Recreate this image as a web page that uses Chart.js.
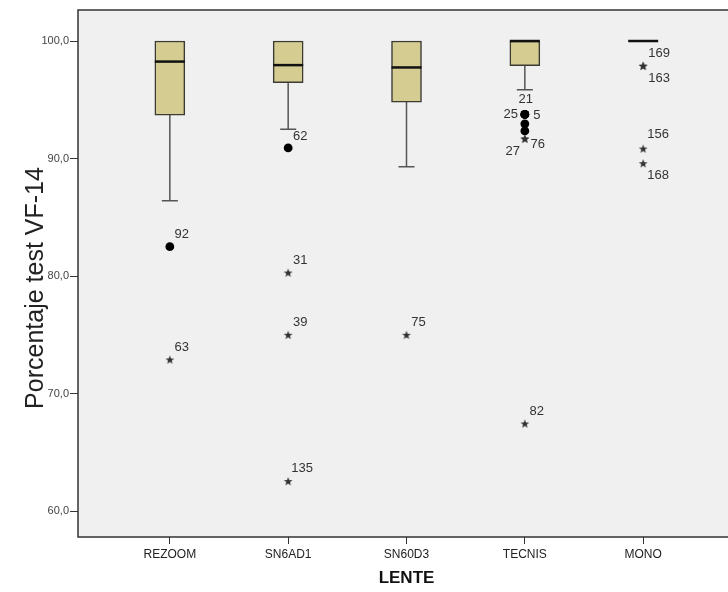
<!DOCTYPE html>
<html>
<head>
<meta charset="utf-8">
<script src="https://cdn.jsdelivr.net/npm/chart.js@4.4.1/dist/chart.umd.min.js"></script>
<style>
  html, body { margin: 0; padding: 0; background: #fff; overflow: hidden; }
  canvas { display: block; }
</style>
</head>
<body>
<canvas id="boxChart" width="740" height="592"></canvas>
<script>
const categories = ["REZOOM", "SN6AD1", "SN60D3", "TECNIS", "MONO"];
const q1 = [93.7, 96.45, 94.8, 97.9, 100];
const medians = [98.25, 97.95, 97.75, 100, 100];
const q3 = [100, 100, 100, 100, 100];
const whiskerLow = [86.4, 92.5, 89.3, 95.85, 100];
const whiskerHigh = [100, 100, 100, 100, 100];

// outliers (circles) and extremes (stars) with their case numbers
const circleCat = [0, 1, 3, 3, 3, 3, 3];
const circleVal = [82.5, 90.9, 93.75, 93.75, 93.75, 92.95, 92.35];
const circleCase = ["92", "62", "21", "25", "5", "", ""];
const starCat = [0, 1, 1, 1, 2, 3, 3, 3, 4, 4, 4, 4];
const starVal = [72.9, 80.3, 75.0, 62.55, 75.0, 67.45, 91.7, 91.7, 97.9, 97.9, 90.85, 89.6];
const starCase = ["63", "31", "39", "135", "75", "82", "27", "76", "169", "163", "156", "168"];

const yTicks = [60, 70, 80, 90, 100];

// where each case number sits relative to its marker (default up-right)
const caseOffset = {
  "135": [14, -13], "21": [1, -15], "25": [-14, 0], "5": [12, 1],
  "27": [-12, 13], "76": [13, 6], "169": [16, -12], "163": [16, 13],
  "156": [15, -14], "168": [15, 12]
};

const FONT = "'Liberation Sans', Arial, sans-serif";

function makeStar(r, color) {
  const c = document.createElement("canvas");
  c.width = c.height = Math.ceil(r * 2 + 2);
  const g = c.getContext("2d");
  g.translate(c.width / 2, c.height / 2 + 0.5);
  g.beginPath();
  for (let k = 0; k < 10; k++) {
    const rad = k % 2 ? r * 0.42 : r;
    const a = -Math.PI / 2 + k * Math.PI / 5;
    g.lineTo(rad * Math.cos(a), rad * Math.sin(a));
  }
  g.closePath();
  g.fillStyle = color;
  g.fill();
  return c;
}

const boxPlot = {
  id: "boxPlot",
  beforeDraw(chart) {
    const {ctx, chartArea: a} = chart;
    ctx.save();
    ctx.fillStyle = "#f0f0f0";
    ctx.fillRect(a.left, a.top, a.right - a.left, a.bottom - a.top);
    ctx.restore();
  },
  beforeDatasetsDraw(chart) {
    const {ctx, scales: {x, y}} = chart;
    ctx.save();
    ctx.strokeStyle = "#555";
    ctx.lineWidth = 1.5;
    categories.forEach((c, i) => {
      const px = x.getPixelForValue(i);
      if (whiskerLow[i] < q1[i]) {
        ctx.beginPath();
        ctx.moveTo(px, y.getPixelForValue(q1[i]));
        ctx.lineTo(px, y.getPixelForValue(whiskerLow[i]));
        ctx.moveTo(px - 8, y.getPixelForValue(whiskerLow[i]));
        ctx.lineTo(px + 8, y.getPixelForValue(whiskerLow[i]));
        ctx.stroke();
      }
      if (whiskerHigh[i] > q3[i]) {
        ctx.beginPath();
        ctx.moveTo(px, y.getPixelForValue(q3[i]));
        ctx.lineTo(px, y.getPixelForValue(whiskerHigh[i]));
        ctx.moveTo(px - 8, y.getPixelForValue(whiskerHigh[i]));
        ctx.lineTo(px + 8, y.getPixelForValue(whiskerHigh[i]));
        ctx.stroke();
      }
    });
    ctx.restore();
  },
  afterDatasetsDraw(chart) {
    const {ctx, chartArea: a, scales: {x, y}} = chart;
    ctx.save();
    // medians
    ctx.strokeStyle = "#111";
    ctx.lineWidth = 2.5;
    categories.forEach((c, i) => {
      const px = x.getPixelForValue(i);
      const py = y.getPixelForValue(medians[i]);
      ctx.beginPath();
      ctx.moveTo(px - 15, py);
      ctx.lineTo(px + 15, py);
      ctx.stroke();
    });
    // case numbers
    ctx.font = "13px " + FONT;
    ctx.fillStyle = "#333";
    ctx.textAlign = "center";
    ctx.textBaseline = "middle";
    [[1, circleCase], [2, starCase]].forEach(([di, ids]) => {
      chart.getDatasetMeta(di).data.forEach((pt, j) => {
        const id = ids[j];
        if (!id) return;
        const off = caseOffset[id] || [12, -12];
        ctx.fillText(id, pt.x + off[0], pt.y + off[1]);
      });
    });
    // frame
    ctx.strokeStyle = "#333";
    ctx.lineWidth = 1.5;
    ctx.strokeRect(a.left, a.top, a.right - a.left, a.bottom - a.top);
    ctx.restore();
  },
  afterDraw(chart) {
    const ctx = chart.ctx;
    ctx.save();
    ctx.translate(36, 288);
    ctx.rotate(-Math.PI / 2);
    ctx.font = "25px " + FONT;
    ctx.fillStyle = "#222";
    ctx.textAlign = "center";
    ctx.textBaseline = "middle";
    ctx.fillText("Porcentaje test VF-14", 0, 0);
    ctx.restore();
  }
};

new Chart(document.getElementById("boxChart"), {
  type: "bar",
  data: {
    datasets: [{
      data: categories.map((c, i) => ({x: i, y: [q1[i], q3[i]]})),
      backgroundColor: "#d5cc91",
      borderColor: "#3b3a33",
      borderWidth: 1.5,
      borderSkipped: false,
      barThickness: 30
    }, {
      type: "scatter",
      data: circleCat.map((c, j) => ({x: c, y: circleVal[j]})),
      pointStyle: "circle",
      pointRadius: 4.4,
      backgroundColor: "#000",
      borderWidth: 0
    }, {
      type: "scatter",
      data: starCat.map((c, j) => ({x: c, y: starVal[j]})),
      pointStyle: makeStar(4.6, "#333")
    }]
  },
  options: {
    responsive: false,
    animation: false,
    devicePixelRatio: 1,
    layout: {padding: {top: 10, right: 4, left: 0, bottom: 0}},
    plugins: {legend: {display: false}, tooltip: {enabled: false}},
    scales: {
      x: {
        type: "linear",
        offset: false,
        min: -0.776,
        max: 4.776,
        afterBuildTicks: s => { s.ticks = categories.map((c, i) => ({value: i})); },
        afterFit: s => { s.height = 55; },
        grid: {offset: false, drawOnChartArea: false, drawTicks: true, tickLength: 7, tickColor: "#333"},
        border: {display: false},
        ticks: {
          callback: v => categories[v],
          font: {family: FONT, size: 12},
          color: "#222",
          padding: 3,
          maxRotation: 0,
          autoSkip: false
        },
        title: {
          display: true,
          text: "LENTE",
          font: {family: FONT, size: 17, weight: "bold"},
          color: "#111",
          padding: {top: 0, bottom: 3}
        }
      },
      y: {
        min: 57.79,
        max: 102.64,
        afterBuildTicks: s => { s.ticks = yTicks.map(v => ({value: v})); },
        afterFit: s => { s.width = 78; },
        grid: {drawOnChartArea: false, drawTicks: true, tickLength: 8, tickColor: "#333"},
        border: {display: false},
        ticks: {
          callback: v => v.toFixed(1).replace(".", ","),
          font: {family: FONT, size: 11},
          color: "#444",
          padding: 1
        }
      }
    }
  },
  plugins: [boxPlot]
});
</script>
</body>
</html>
